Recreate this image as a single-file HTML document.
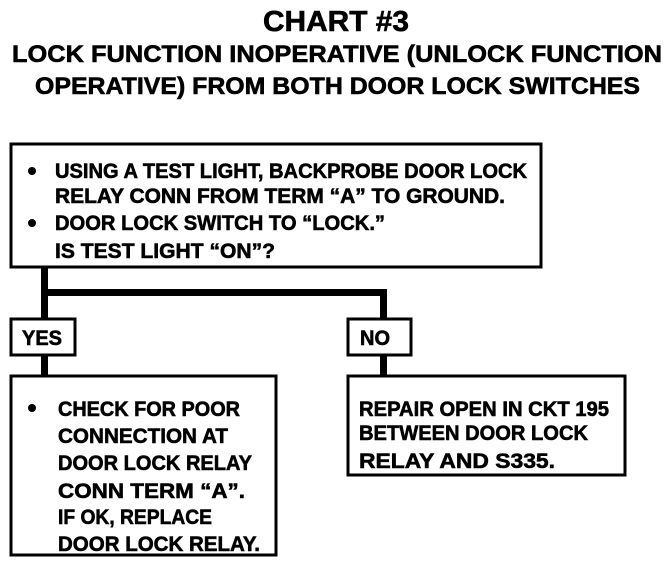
<!DOCTYPE html>
<html><head><meta charset="utf-8"><style>
html,body{margin:0;padding:0;background:#fff;}
svg{display:block;}
text{font-family:"Liberation Sans",sans-serif;font-weight:bold;fill:#000;stroke:#000;stroke-width:0.6;}
</style></head><body>
<svg width="672" height="568" viewBox="0 0 672 568" xmlns="http://www.w3.org/2000/svg">
<text x="336" y="31" font-size="29" text-anchor="middle" textLength="146" lengthAdjust="spacingAndGlyphs">CHART #3</text>
<text x="12" y="62" font-size="24" textLength="650" lengthAdjust="spacingAndGlyphs">LOCK FUNCTION INOPERATIVE (UNLOCK FUNCTION</text>
<text x="35" y="94" font-size="24" textLength="605" lengthAdjust="spacingAndGlyphs">OPERATIVE) FROM BOTH DOOR LOCK SWITCHES</text>

<g fill="none" stroke="#000" stroke-width="3">
<rect x="11" y="144" width="530" height="123"/>
<rect x="11" y="319" width="64" height="36"/>
<rect x="348" y="319" width="63" height="36"/>
<rect x="11" y="376" width="265" height="179"/>
<rect x="348" y="376" width="277" height="99"/>
</g>
<g fill="#000">
<rect x="41" y="267" width="7" height="52"/>
<rect x="41" y="289" width="346" height="7"/>
<rect x="380" y="289" width="7" height="30"/>
<rect x="41" y="355" width="7" height="21"/>
<rect x="380" y="355" width="7" height="21"/>
<circle cx="32" cy="171" r="4"/>
<circle cx="32" cy="223" r="4"/>
<circle cx="32" cy="408" r="4"/>
</g>
<g font-size="21">
<text x="55" y="178" textLength="472" lengthAdjust="spacingAndGlyphs">USING A TEST LIGHT, BACKPROBE DOOR LOCK</text>
<text x="55" y="203" textLength="450" lengthAdjust="spacingAndGlyphs">RELAY CONN FROM TERM “A” TO GROUND.</text>
<text x="55" y="230" textLength="330" lengthAdjust="spacingAndGlyphs">DOOR LOCK SWITCH TO  “LOCK.”</text>
<text x="55" y="258" textLength="220" lengthAdjust="spacingAndGlyphs">IS TEST LIGHT “ON”?</text>
<text x="22" y="345" textLength="40" lengthAdjust="spacingAndGlyphs">YES</text>
<text x="360" y="345" textLength="30" lengthAdjust="spacingAndGlyphs">NO</text>
<text x="58" y="416" textLength="182" lengthAdjust="spacingAndGlyphs">CHECK FOR POOR</text>
<text x="58" y="443" textLength="170" lengthAdjust="spacingAndGlyphs">CONNECTION AT</text>
<text x="58" y="470" textLength="194" lengthAdjust="spacingAndGlyphs">DOOR LOCK RELAY</text>
<text x="58" y="498" textLength="187" lengthAdjust="spacingAndGlyphs">CONN TERM “A”.</text>
<text x="58" y="524" textLength="154" lengthAdjust="spacingAndGlyphs">IF OK, REPLACE</text>
<text x="58" y="551" textLength="202" lengthAdjust="spacingAndGlyphs">DOOR LOCK RELAY.</text>
<text x="359" y="416" textLength="250" lengthAdjust="spacingAndGlyphs">REPAIR OPEN IN CKT 195</text>
<text x="359" y="440" textLength="229" lengthAdjust="spacingAndGlyphs">BETWEEN DOOR LOCK</text>
<text x="359" y="468" textLength="196" lengthAdjust="spacingAndGlyphs">RELAY AND S335.</text>
</g>
</svg>
</body></html>
